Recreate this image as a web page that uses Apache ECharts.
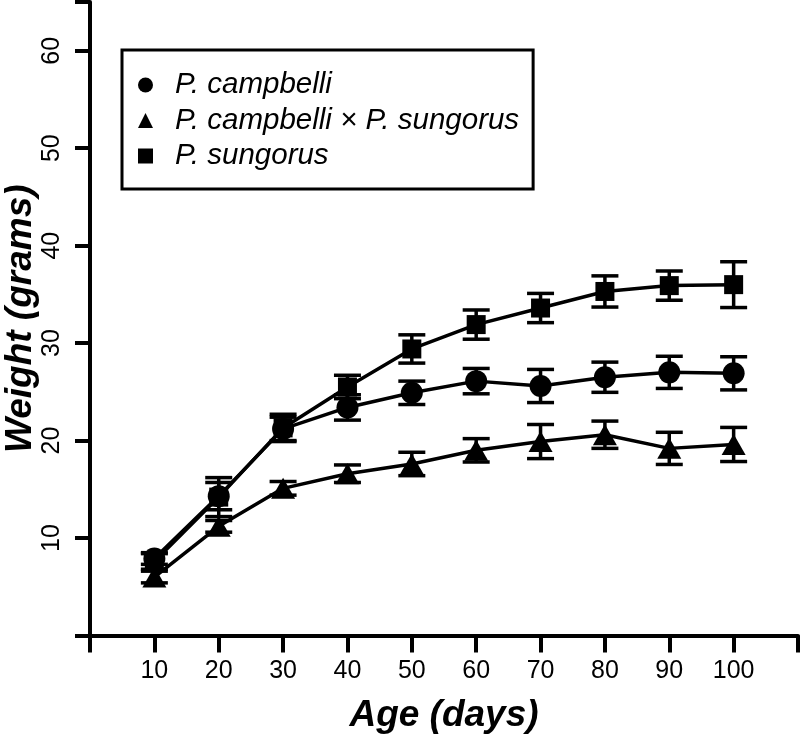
<!DOCTYPE html>
<html><head><meta charset="utf-8">
<script src="https://cdn.jsdelivr.net/npm/echarts@6/dist/echarts.min.js"></script>
<style>html,body{margin:0;padding:0;background:#fff}#c{width:800px;height:736px}</style>
</head><body><div id="c"></div>
<script>
// ---- data ----
const ages = [10, 20, 30, 40, 50, 60, 70, 80, 90, 100];
const xTicks = [10, 20, 30, 40, 50, 60, 70, 80, 90, 100];
const yTicks = [10, 20, 30, 40, 50, 60];
const seriesNames = ['P. campbelli', 'P. campbelli × P. sungorus', 'P. sungorus'];
const campbelli   = [7.9, 14.3, 21.2, 23.4, 24.9, 26.1, 25.6, 26.5, 27.0, 26.9];
const campbelliSE = [0.6, 1.4, 1.2, 1.3, 1.2, 1.3, 1.7, 1.55, 1.65, 1.7];
const hybrid      = [6.0, 11.2, 15.1, 16.6, 17.6, 19.0, 19.9, 20.6, 19.2, 19.6];
const hybridSE    = [0.6, 0.6, 0.7, 0.9, 1.2, 1.2, 1.75, 1.4, 1.65, 1.75];
const sungorus    = [7.6, 14.2, 21.3, 25.5, 29.4, 31.9, 33.6, 35.3, 35.9, 36.0];
const sungorusSE  = [0.8, 2.0, 1.4, 1.2, 1.45, 1.5, 1.5, 1.6, 1.5, 2.35];
const xTitle = 'Age (days)';
const yTitle = 'Weight (grams)';

// ---- chart ----
const FONT = 'Liberation Sans, Arial, sans-serif';
const chart = echarts.init(document.getElementById('c'), null, {renderer: 'canvas'});

function pts(vals) { return ages.map((a, i) => [a, vals[i]]); }
function errs(vals, se) { return ages.map((a, i) => [a, vals[i] - se[i], vals[i] + se[i]]); }

function renderErr(params, api) {
  const x = api.value(0), lo = api.value(1), hi = api.value(2);
  const pLo = api.coord([x, lo]), pHi = api.coord([x, hi]);
  const hw = 13.5;
  const style = {stroke: '#000', lineWidth: 3.5, fill: null};
  return {type: 'group', children: [
    {type: 'line', shape: {x1: pLo[0], y1: pLo[1], x2: pHi[0], y2: pHi[1]}, style: style},
    {type: 'line', shape: {x1: pLo[0] - hw, y1: pLo[1], x2: pLo[0] + hw, y2: pLo[1]}, style: style},
    {type: 'line', shape: {x1: pHi[0] - hw, y1: pHi[1], x2: pHi[0] + hw, y2: pHi[1]}, style: style}
  ]};
}

function lineSeries(name, vals, symbol, size) {
  return {
    name: name, type: 'line', data: pts(vals), symbol: symbol, symbolSize: size,
    showAllSymbol: true, z: 5,
    lineStyle: {color: '#000', width: 3.5},
    itemStyle: {color: '#000', borderWidth: 0},
    emphasis: {disabled: true}
  };
}
function errSeries(name, vals, se) {
  return {
    name: name + ' SE', type: 'custom', data: errs(vals, se), renderItem: renderErr,
    encode: {x: 0, y: [1, 2]}, z: 4, silent: true
  };
}

const option = {
  animation: false,
  backgroundColor: '#fff',
  grid: {left: 90, right: 2, top: 2, bottom: 100.5, containLabel: false, outerBoundsMode: 'none'},
  legend: {
    show: true, orient: 'vertical', left: 122, top: 50,
    data: [
      {name: seriesNames[0], icon: 'circle'},
      {name: seriesNames[1], icon: 'triangle'},
      {name: seriesNames[2], icon: 'rect'}
    ],
    itemWidth: 15, itemHeight: 15, itemGap: 5.5,
    padding: [20, 14, 18, 16],
    borderColor: '#000', borderWidth: 3, borderRadius: 0,
    backgroundColor: '#fff',
    selectedMode: false,
    itemStyle: {color: '#000'},
    textStyle: {fontFamily: FONT, fontStyle: 'italic', fontSize: 29.5, color: '#000', padding: [0, 0, 0, 17]}
  },
  xAxis: {
    type: 'value', min: 0, max: 110, interval: 10,
    name: xTitle, nameLocation: 'middle', nameGap: 62, nameMoveOverlap: false,
    nameTextStyle: {fontFamily: FONT, fontStyle: 'italic', fontWeight: 'bold', fontSize: 37, color: '#000'},
    axisLine: {show: true, lineStyle: {color: '#000', width: 4}},
    axisTick: {show: true, length: 17, lineStyle: {color: '#000', width: 4}},
    axisLabel: {fontFamily: FONT, fontSize: 25, color: '#000', margin: 23, customValues: xTicks},
    splitLine: {show: false}
  },
  yAxis: {
    type: 'value', min: 0, max: 65, interval: 10,
    name: yTitle, nameLocation: 'middle', nameGap: 51, nameRotate: 90, nameMoveOverlap: false,
    nameTextStyle: {fontFamily: FONT, fontStyle: 'italic', fontWeight: 'bold', fontSize: 37, color: '#000'},
    axisLine: {show: true, lineStyle: {color: '#000', width: 4}},
    axisTick: {show: true, length: 15, lineStyle: {color: '#000', width: 4}},
    axisLabel: {fontFamily: FONT, fontSize: 25, color: '#000', margin: 25, rotate: 90, customValues: yTicks},
    splitLine: {show: false}
  },
  series: [
    errSeries(seriesNames[2], sungorus, sungorusSE),
    errSeries(seriesNames[0], campbelli, campbelliSE),
    errSeries(seriesNames[1], hybrid, hybridSE),
    lineSeries(seriesNames[2], sungorus, 'rect', 19),
    lineSeries(seriesNames[0], campbelli, 'circle', 22),
    lineSeries(seriesNames[1], hybrid, 'triangle', [24, 21])
  ]
};
chart.setOption(option);
</script>
</body></html>
